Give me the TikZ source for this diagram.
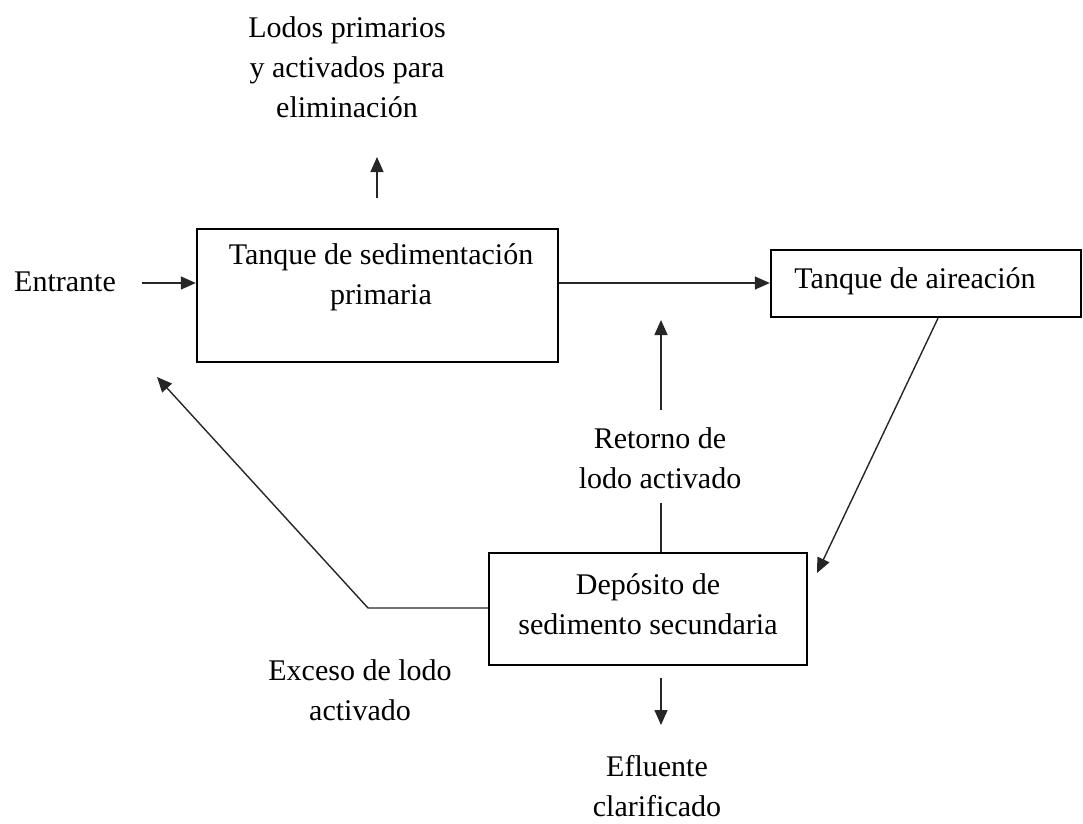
\documentclass[tikz,border=0pt]{standalone}
\usepackage{fontspec}
\setmainfont{Liberation Serif}
\usetikzlibrary{arrows.meta}
\tikzset{
  boxnode/.style={draw=black, line width=2.4pt, rectangle, inner sep=0pt},
  txt/.style={align=center, inner sep=0pt, font=\fontsize{30}{40}\selectfont},
  conn/.style={draw=black!85, line width=1.4pt},
  arr/.style={conn, -{Triangle[length=15pt,width=13pt]}}
}
\begin{document}
\begin{tikzpicture}[x=1pt,y=-1pt]
\useasboundingbox (0,0) rectangle (1083,823);
% boxes
\node[boxnode, minimum width=361pt, minimum height=133pt] (prim) at (377.5,295.5) {};
\node[txt] (primt) at (381,277.5) {Tanque de sedimentación\\primaria};
\node[boxnode, minimum width=310pt, minimum height=67pt] (aer) at (926,283.5) {};
\node[txt] (aert) at (915,281) {Tanque de aireación};
\node[boxnode, minimum width=318pt, minimum height=112pt] (sec) at (648,609) {};
\node[txt] (sect) at (648,604) {Depósito de\\sedimento secundaria};
% labels
\node[txt] (lodos) at (347,67) {Lodos primarios\\y activados para\\eliminación};
\node[txt] (entr) at (65,282) {Entrante};
\node[txt] (ret) at (660,458) {Retorno de\\lodo activado};
\node[txt] (exc) at (360,690) {Exceso de lodo\\activado};
\node[txt] (efl) at (657,786) {Efluente\\clarificado};
% coordinates
\coordinate (lodA) at (377,198);
\coordinate (lodB) at (377,157);
\coordinate (inS) at (142,283);
\coordinate (secIn) at (817,573);
\coordinate (retA) at (661,503);
\coordinate (retB) at (661,410);
\coordinate (retC) at (661,320);
\coordinate (exY) at (368,608);
\coordinate (exTip) at (157,377);
\coordinate (eflA) at (661,678);
\coordinate (eflB) at (661,725);
% connectors
\draw[arr] (lodA) -- (lodB);
\draw[arr] (inS) -- (prim.west |- inS);
\draw[arr] (prim.east |- inS) -- (aer.west |- inS);
\draw[arr] ([xshift=12pt]aer.south) -- (secIn);
\draw[conn] (sec.north -| retA) -- (retA);
\draw[arr] (retB) -- (retC);
\draw[arr] (sec.west |- exY) -- (exY) -- (exTip);
\draw[arr] (eflA) -- (eflB);
\end{tikzpicture}
\end{document}
